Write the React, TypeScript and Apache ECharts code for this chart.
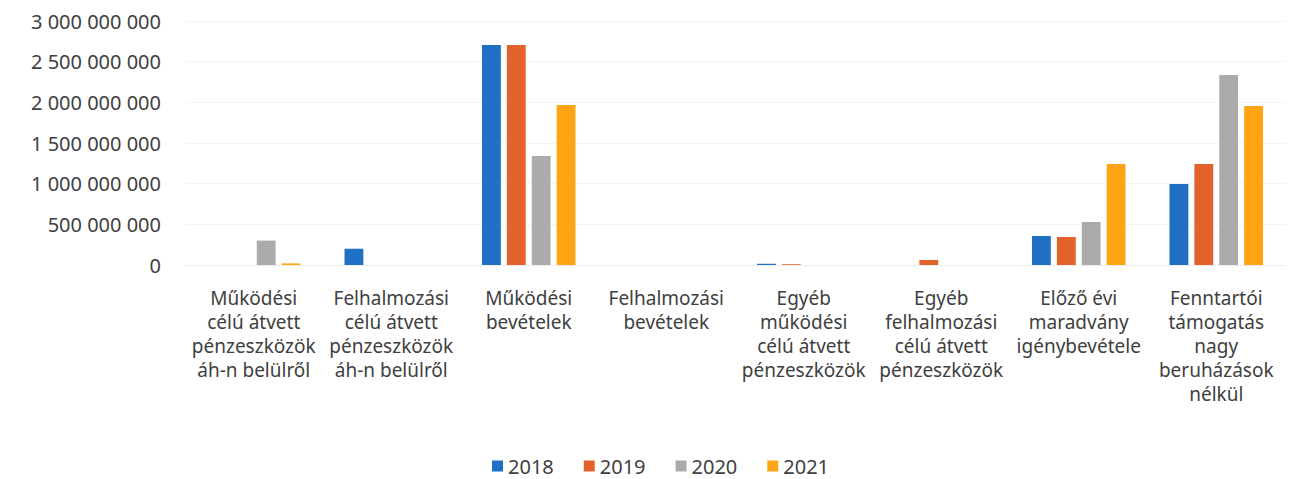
import React, { useEffect, useRef } from "react";
import * as echarts from "echarts";

const categories = [
  "Működési\ncélú átvett\npénzeszközök\náh-n belülről",
  "Felhalmozási\ncélú átvett\npénzeszközök\náh-n belülről",
  "Működési\nbevételek",
  "Felhalmozási\nbevételek",
  "Egyéb\nműködési\ncélú átvett\npénzeszközök",
  "Egyéb\nfelhalmozási\ncélú átvett\npénzeszközök",
  "Előző évi\nmaradvány\nigénybevétele",
  "Fenntartói\ntámogatás\nnagy\nberuházások\nnélkül",
];

const seriesNames = ["2018", "2019", "2020", "2021"];
const values2018 = [0, 200000000, 2705000000, 0, 15000000, 0, 357000000, 996000000];
const values2019 = [0, 0, 2705000000, 0, 10000000, 60000000, 344000000, 1242000000];
const values2020 = [300000000, 0, 1340000000, 0, 0, 0, 529000000, 2336000000];
const values2021 = [20000000, 0, 1967000000, 0, 0, 0, 1242000000, 1955000000];
const colors = ["#1F6FC5", "#E3622B", "#ABABAB", "#FFA412"];

const fmt = (v: number) =>
  String(Math.round(v)).replace(/\B(?=(\d{3})+(?!\d))/g, " ");

export default function App() {
  const ref = useRef<HTMLDivElement>(null);
  useEffect(() => {
    const chart = echarts.init(ref.current!, null, { renderer: "svg" });
    const font = "'Noto Sans', sans-serif";
    const all = [values2018, values2019, values2020, values2021];
    chart.setOption({
      animation: false,
      textStyle: { fontFamily: font },
      grid: { left: 185, right: 8, top: 21, bottom: 214, containLabel: false },
      legend: {
        top: 451,
        left: 487,
        padding: 5,
        itemWidth: 11,
        itemHeight: 11,
        itemGap: 30,
        icon: "rect",
        textStyle: { fontSize: 20, color: "#404040", fontFamily: font },
        data: seriesNames,
      },
      xAxis: {
        type: "category",
        data: categories,
        axisLine: { show: true, lineStyle: { color: "#EDEDED" } },
        axisTick: { show: false },
        axisLabel: {
          interval: 0,
          margin: 21,
          fontSize: 19,
          lineHeight: 24,
          color: "#404040",
          fontFamily: font,
        },
      },
      yAxis: {
        type: "value",
        min: 0,
        max: 3000000000,
        interval: 500000000,
        axisLine: { show: false },
        axisTick: { show: false },
        splitLine: { lineStyle: { color: "#F4F4F4" } },
        axisLabel: {
          formatter: fmt,
          fontSize: 20,
          color: "#404040",
          margin: 24,
          fontFamily: font,
        },
      },
      series: seriesNames.map((n, i) => ({
        name: n,
        type: "bar",
        data: all[i],
        barGap: "32%",
        barCategoryGap: "32%",
        itemStyle: { color: colors[i] },
      })),
    });
    return () => chart.dispose();
  }, []);
  return (
    <div
      ref={ref}
      style={{ position: "absolute", left: 0, top: 0, width: 1293, height: 479 }}
    />
  );
}
